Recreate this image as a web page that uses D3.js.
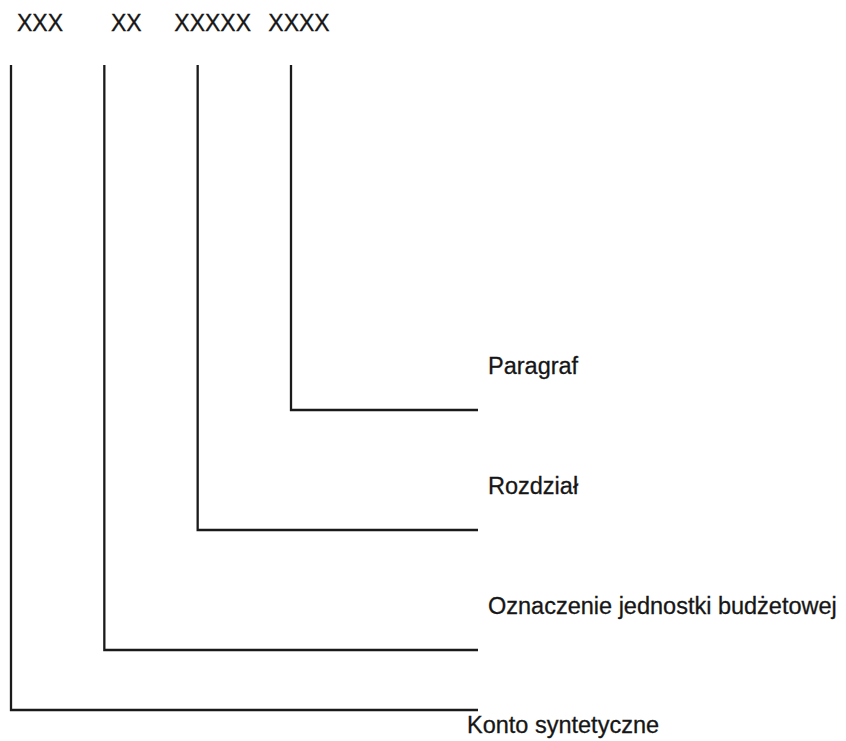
<!DOCTYPE html>
<html>
<head>
<meta charset="utf-8">
<script src="https://cdn.jsdelivr.net/npm/d3@7"></script>
<style>
  html, body { margin: 0; padding: 0; background: #fff; }
  svg text { font-family: "Liberation Sans", Arial, sans-serif; fill: #161616; stroke: #161616; stroke-width: 0.3px; }
</style>
</head>
<body>
<div id="chart"></div>
<script>
// code segments of the account number, left to right
const codeSegments = ['XXX', 'XX', 'XXXXX', 'XXXX'];
// what each segment means
const segmentNames = ['Konto syntetyczne', 'Oznaczenie jednostki budżetowej', 'Rozdział', 'Paragraf'];
// row of the bracket, counted up from the bottom
const segmentRows = [0, 1, 3, 5];

const width = 846, height = 741;

const svg = d3.select('#chart')
    .append('svg')
    .attr('width', width)
    .attr('height', height);

const idx = codeSegments.map((d, i) => i);

// x of the vertical leader lines and of the code labels
const xLine = d3.scalePoint().domain(idx).range([11, 291]);
const xCode = d3.scalePoint().domain(idx).range([40, 299]);
const y = d3.scaleLinear().domain([0, 5]).range([710, 410]);

const lineTop = 65;
const lineEnd = 478;

// code labels on top
svg.selectAll('text.code')
    .data(idx)
    .enter().append('text')
    .attr('class', 'code')
    .attr('x', i => xCode(i))
    .attr('y', 31)
    .attr('text-anchor', 'middle')
    .style('font-size', '23px')
    .text(i => codeSegments[i]);

// bracket lines
svg.selectAll('path.bracket')
    .data(idx)
    .enter().append('path')
    .attr('class', 'bracket')
    .attr('d', i => {
        const p = d3.path();
        p.moveTo(xLine(i), lineTop);
        p.lineTo(xLine(i), y(segmentRows[i]));
        p.lineTo(lineEnd, y(segmentRows[i]));
        return p.toString();
    })
    .attr('fill', 'none')
    .attr('stroke', '#1a1a1a')
    .attr('stroke-width', 2.3);

// names beside the brackets; the bottom one hangs below its line
svg.selectAll('text.name')
    .data(idx)
    .enter().append('text')
    .attr('class', 'name')
    .attr('x', i => segmentRows[i] === 0 ? 467 : 488)
    .attr('y', i => segmentRows[i] === 0 ? y(segmentRows[i]) + 23 : y(segmentRows[i]) - 36)
    .style('font-size', '23.5px')
    .text(i => segmentNames[i]);
</script>
</body>
</html>
